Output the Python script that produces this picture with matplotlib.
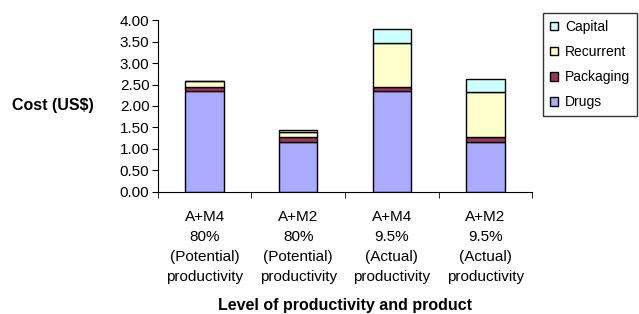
import numpy as np
import matplotlib.pyplot as plt
from matplotlib.patches import Patch

plt.rcParams['font.family'] = ['Liberation Sans', 'DejaVu Sans']

# Datos (US$)
categorias = ['A+M4\n80%\n(Potential)\nproductivity',
              'A+M2\n80%\n(Potential)\nproductivity',
              'A+M4\n9.5%\n(Actual)\nproductivity',
              'A+M2\n9.5%\n(Actual)\nproductivity']
drugs = [2.35, 1.17, 2.35, 1.17]
packaging = [0.09, 0.11, 0.09, 0.11]
recurrent = [0.13, 0.12, 1.03, 1.04]
capital = [0.02, 0.03, 0.32, 0.30]

series = [('Drugs', drugs, '#AAAAFF'),
          ('Packaging', packaging, '#993366'),
          ('Recurrent', recurrent, '#FFFFCC'),
          ('Capital', capital, '#CCFFFF')]

fig = plt.figure(figsize=(6.39, 3.14), dpi=100)
ax = fig.add_axes([0.247, 0.389, 0.586, 0.547])

x = np.arange(len(categorias))
base = np.zeros(len(categorias))
for nombre, valores, color in series:
    ax.bar(x, valores, bottom=base, width=0.41, color=color,
           edgecolor='black', linewidth=1.0, label=nombre)
    base += np.array(valores)

ax.set_xlim(-0.5, len(categorias) - 0.5)
ax.set_ylim(0, 4.0)
yt = np.arange(0, 4.01, 0.5)
ax.set_yticks(yt)
ax.set_yticklabels([f'{v:.2f}' for v in yt], fontsize=11)
ax.set_xticks(x)
ax.set_xticklabels(categorias, fontsize=11, linespacing=1.54)
ax.tick_params(axis='x', length=0, pad=13)
ax.set_xticks(np.arange(-0.5, len(categorias), 1.0), minor=True)
ax.tick_params(axis='x', which='minor', length=4, direction='out')
ax.tick_params(axis='y', length=4, direction='out', pad=2)

for lado in ['top', 'right']:
    ax.spines[lado].set_visible(False)

ax.set_ylabel('Cost (US$)', fontsize=11.5, fontweight='bold', rotation=0,
              ha='center', va='center')
ax.yaxis.set_label_coords(-0.28, 0.5)
ax.set_xlabel('Level of productivity and product', fontsize=11.5,
              fontweight='bold', labelpad=10)

handles = [Patch(facecolor=c, edgecolor='black', label=n) for n, v, c in series[::-1]]
fig.legend(handles=handles, loc='upper left', bbox_to_anchor=(0.85, 0.959),
           borderaxespad=0, fontsize=10, frameon=True, fancybox=False,
           edgecolor='black', handlelength=0.6, handleheight=0.6,
           handletextpad=0.5, labelspacing=0.8, borderpad=0.5)

plt.savefig('out.png', dpi=100)
